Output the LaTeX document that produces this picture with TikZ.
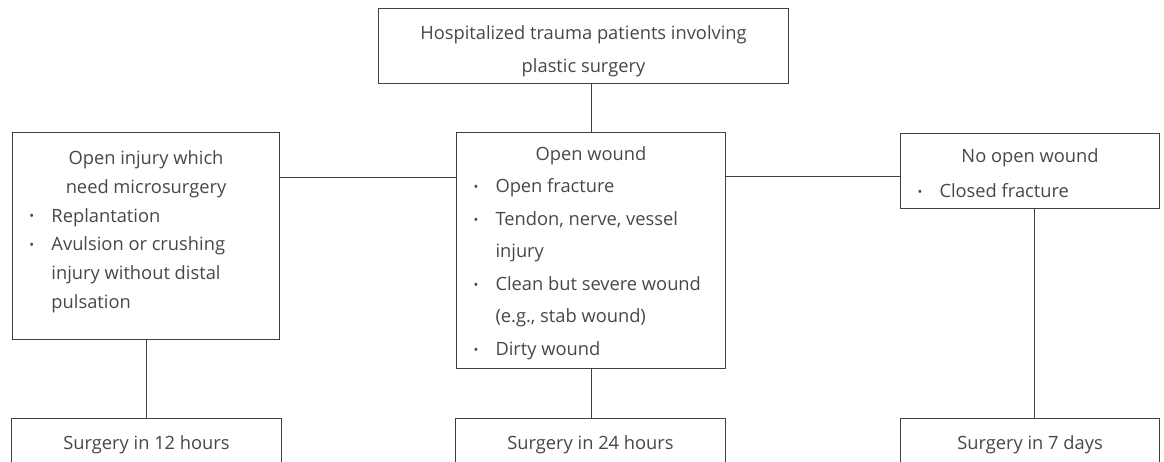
\documentclass[tikz,border=0pt]{standalone}
\usepackage{fontspec}
\setmainfont{Open Sans}
\newcommand\bitem[1]{\par\noindent\hangindent=39pt\hangafter=1\hspace*{17pt}\makebox[22pt][l]{\raisebox{0.15ex}{\scalebox{0.7}{•}}}#1\par}
\newcommand\boxtext[4]{\begin{minipage}[t][#2][t]{#1}\fontsize{18.3}{#3}\selectfont\raggedright\rule{0pt}{#4}\ignorespaces}
\tikzset{
  box/.style={draw=black!75, line width=1pt, anchor=north west, inner sep=0pt, text=black!72, align=left},
  link/.style={draw=black!75, line width=1pt},
}
\begin{document}
\begin{tikzpicture}[x=1pt,y=-1pt]
\useasboundingbox (0,0) rectangle (1164,462);
\clip (0,0) rectangle (1164,462);
\node[box] (top) at (378,8) {\boxtext{410pt}{75pt}{33pt}{31pt}{\centering Hospitalized trauma patients involving\\ plastic surgery\par}\end{minipage}};
\node[box] (left) at (12,132) {\boxtext{267pt}{207pt}{28.8pt}{32pt}{\centering Open injury which\\ need microsurgery\par}
\bitem{Replantation}
\bitem{Avulsion or crushing\newline injury without distal\newline pulsation}
\end{minipage}};
\node[box] (center) at (456,132) {\boxtext{269pt}{236pt}{32.5pt}{28pt}{\centering Open wound\par}
\bitem{Open fracture}
\bitem{Tendon, nerve, vessel\newline injury}
\bitem{Clean but severe wound\newline (e.g., stab wound)}
\bitem{Dirty wound}
\end{minipage}};
\node[box] (right) at (900,133) {\boxtext{259pt}{75pt}{35pt}{29pt}{\centering No open wound\par}
\bitem{Closed fracture}
\end{minipage}};
\node[box] (b1) at (11,418) {\boxtext{270pt}{80pt}{30pt}{31pt}{\centering Surgery in 12 hours\par}\end{minipage}};
\node[box] (b2) at (455,418) {\boxtext{270pt}{80pt}{30pt}{31pt}{\centering Surgery in 24 hours\par}\end{minipage}};
\node[box] (b3) at (900,418) {\boxtext{259pt}{80pt}{30pt}{31pt}{\centering Surgery in 7 days\par}\end{minipage}};
\draw[link] (center.north) -- (center.north |- top.south);
\draw[link] ([yshift=-46pt]left.north east) coordinate (h1) -- (h1 -| center.west);
\draw[link] ([yshift=-45pt]center.north east) coordinate (h2) -- (h2 -| right.west);
\draw[link] (left.south) -- (left.south |- b1.north);
\draw[link] (center.south) -- (center.south |- b2.north);
\draw[link] ([xshift=4pt]right.south) -- ([xshift=4pt]right.south |- b3.north);
\end{tikzpicture}
\end{document}
